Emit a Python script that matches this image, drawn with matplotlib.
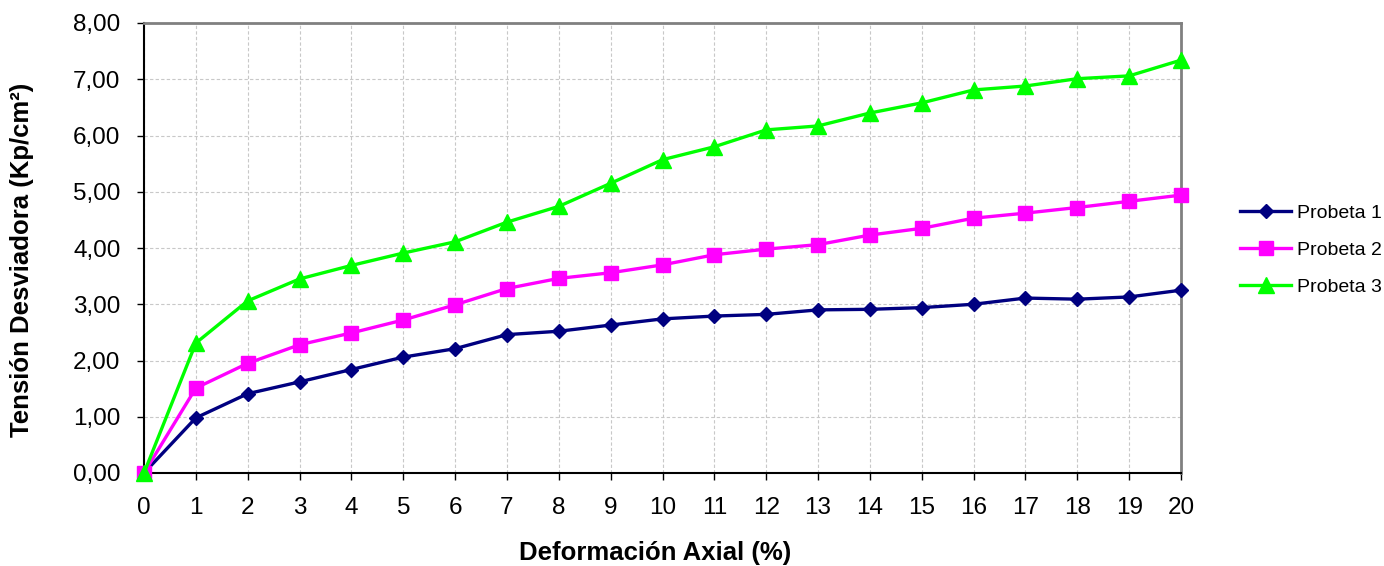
import matplotlib
matplotlib.use("Agg")
import matplotlib.pyplot as plt
from matplotlib.ticker import FuncFormatter, MultipleLocator

plt.rcParams['font.family'] = ['Liberation Sans', 'DejaVu Sans']

deformacion = list(range(0, 21))
probeta_1 = [0.00, 0.98, 1.41, 1.62, 1.84, 2.06, 2.21, 2.46, 2.52, 2.63, 2.74,
             2.79, 2.82, 2.90, 2.91, 2.94, 3.00, 3.11, 3.09, 3.13, 3.25]
probeta_2 = [0.00, 1.51, 1.95, 2.28, 2.49, 2.72, 2.99, 3.28, 3.46, 3.56, 3.70,
             3.88, 3.98, 4.06, 4.23, 4.35, 4.53, 4.62, 4.72, 4.83, 4.94]
probeta_3 = [0.00, 2.31, 3.06, 3.45, 3.69, 3.91, 4.11, 4.46, 4.74, 5.15, 5.57,
             5.80, 6.10, 6.17, 6.40, 6.58, 6.81, 6.88, 7.01, 7.06, 7.34]
series_names = ["Probeta 1", "Probeta 2", "Probeta 3"]

fig = plt.figure(figsize=(13.84, 5.66), dpi=100)
ax = fig.add_axes([144/1384, 1-473/566, (1181-144)/1384, (473-23)/566])

ax.plot(deformacion, probeta_1, color='#000080', marker='D', markersize=7, lw=2.4, label=series_names[0], zorder=3, clip_on=False)
ax.plot(deformacion, probeta_2, color='#ff00ff', marker='s', markersize=10.5, lw=2.4, label=series_names[1], zorder=3, clip_on=False)
ax.plot(deformacion, probeta_3, color='#00ff00', marker='^', markersize=11, lw=2.4, label=series_names[2], zorder=3, clip_on=False)

ax.set_xlim(0, 20)
ax.set_ylim(0, 8)
ax.xaxis.set_major_locator(MultipleLocator(1))
ax.yaxis.set_major_locator(MultipleLocator(1))
ax.yaxis.set_major_formatter(FuncFormatter(lambda v, p: f"{v:.2f}".replace('.', ',')))
ax.grid(True, color='#c8c8c8', linestyle=(0, (3, 2)), linewidth=0.8)
ax.set_axisbelow(True)

for s in ['left', 'bottom']:
    ax.spines[s].set_color('black')
    ax.spines[s].set_linewidth(1.5)
for s in ['top', 'right']:
    ax.spines[s].set_color('#808080')
    ax.spines[s].set_linewidth(2)

ax.tick_params(axis='both', direction='out', length=5, width=1, labelsize=17.5, colors='black')
ax.tick_params(axis='y', pad=12)
ax.tick_params(axis='x', pad=12)
ax.set_xlabel("Deformación Axial (%)", fontsize=18.5, fontweight='bold', va='center')
ax.set_ylabel("Tensión Desviadora (Kp/cm²)", fontsize=18.5, fontweight='bold', va='center')
ax.xaxis.set_label_coords((655-144)/(1181-144), -(553-473)/(473-23))
ax.yaxis.set_label_coords(-(144-22)/(1181-144), (473-260)/(473-23))

fig.legend(loc='center left', bbox_to_anchor=(1232/1384, 1-250/566), frameon=False,
           fontsize=14, handlelength=2.65, labelspacing=1.0, handletextpad=0.3, borderaxespad=0)

fig.savefig("out.png", dpi=100)
